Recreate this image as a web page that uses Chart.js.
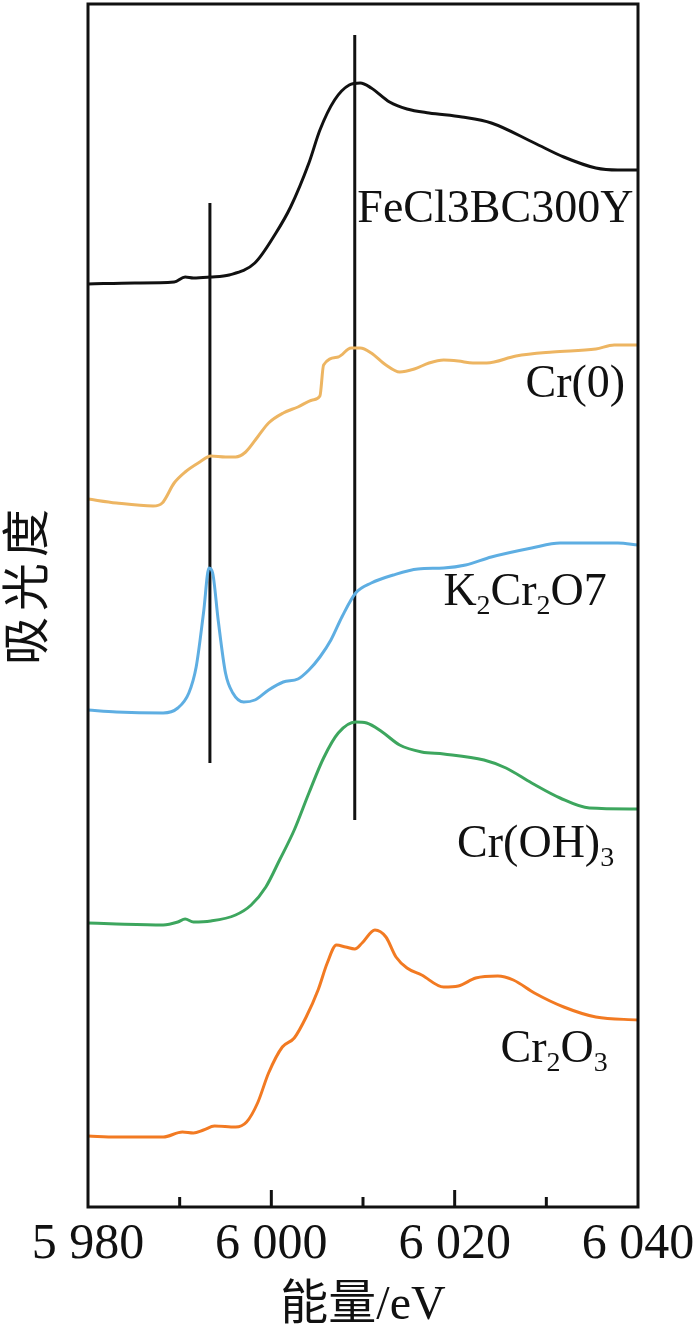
<!DOCTYPE html>
<html>
<head>
<meta charset="utf-8">
<script src="https://cdn.jsdelivr.net/npm/chart.js@4.4.1/dist/chart.umd.min.js"></script>
<style>
  html, body { margin: 0; padding: 0; background: #fff; }
  #wrap { width: 700px; height: 1333px; position: relative; }
</style>
</head>
<body>
<div id="wrap"><canvas id="chart"></canvas></div>
<script>
/* ── Data (energy in eV, absorbance in stacked arbitrary units) ─────────── */
const xTicks = [5980, 5990, 6000, 6010, 6020, 6030, 6040];

const feE = [5980.0, 5985.1, 5989.4, 5990.6, 5991.5, 5993.3, 5995.4, 5998.2, 6000.5, 6002.1, 6004.1, 6005.3, 6006.9,
  6008.5, 6009.7, 6010.9, 6012.9, 6014.8, 6017.2, 6020.8, 6024.0, 6028.7, 6031.9, 6035.4, 6037.8, 6040.0];
const feA = [9.23, 9.24, 9.25, 9.30, 9.29, 9.30, 9.32, 9.44, 9.74, 10.00, 10.44, 10.77, 11.07,
  11.22, 11.24, 11.19, 11.05, 10.98, 10.94, 10.90, 10.84, 10.64, 10.50, 10.39, 10.37, 10.37];

const cr0E = [5980.0, 5983.1, 5987.1, 5988.1, 5989.4, 5990.6, 5992.2, 5993.4, 5995.0, 5996.1, 5997.2, 5998.5, 5999.7,
  6001.3, 6002.9, 6004.5, 6005.3, 6005.7, 6007.3, 6008.7, 6009.7, 6010.9, 6012.5, 6014.0, 6015.6, 6017.2, 6018.8,
  6020.4, 6022.0, 6023.5, 6026.7, 6030.7, 6035.4, 6037.4, 6040.0];
const cr0A = [7.08, 7.04, 7.01, 7.04, 7.24, 7.35, 7.45, 7.51, 7.50, 7.50, 7.55, 7.70, 7.84,
  7.94, 8.00, 8.07, 8.11, 8.42, 8.50, 8.59, 8.59, 8.54, 8.42, 8.35, 8.38, 8.44, 8.47,
  8.46, 8.44, 8.44, 8.51, 8.55, 8.58, 8.62, 8.62];

const kE = [5980.0, 5983.1, 5988.2, 5989.8, 5991.0, 5991.8, 5992.6, 5993.2, 5993.6, 5994.2, 5995.0, 5995.8, 5997.0,
  5998.2, 5999.7, 6001.3, 6002.9, 6004.1, 6005.3, 6006.5, 6007.7, 6009.2, 6010.9, 6013.3, 6016.0, 6018.8,
  6021.2, 6024.0, 6028.4, 6031.5, 6034.7, 6037.8, 6040.0];
const kA = [4.97, 4.95, 4.94, 4.99, 5.14, 5.40, 5.94, 6.39, 6.34, 5.87, 5.34, 5.14, 5.05,
  5.07, 5.17, 5.25, 5.28, 5.37, 5.50, 5.67, 5.90, 6.14, 6.24, 6.32, 6.38, 6.39,
  6.42, 6.50, 6.59, 6.64, 6.64, 6.64, 6.62];

const ohE = [5980.0, 5983.1, 5988.2, 5989.8, 5990.6, 5991.5, 5993.4, 5996.1, 5997.8, 5999.4, 6000.9, 6002.5, 6004.1,
  6005.7, 6007.3, 6009.2, 6010.4, 6012.1, 6014.0, 6016.4, 6018.8, 6023.2, 6025.6, 6028.4, 6031.5, 6034.7, 6040.0];
const ohA = [2.84, 2.83, 2.82, 2.85, 2.88, 2.85, 2.86, 2.92, 3.02, 3.20, 3.47, 3.77, 4.14,
  4.49, 4.74, 4.85, 4.84, 4.75, 4.62, 4.55, 4.53, 4.47, 4.39, 4.24, 4.09, 3.99, 3.98];

const oxE = [5980.0, 5983.1, 5988.2, 5990.3, 5991.5, 5992.6, 5993.8, 5996.1, 5997.3, 5998.5, 5999.7, 6001.2, 6002.5,
  6003.8, 6005.1, 6006.1, 6007.1, 6008.1, 6009.1, 6009.9, 6011.3, 6012.5, 6013.6, 6014.8, 6016.4, 6018.8,
  6020.4, 6022.3, 6024.7, 6026.4, 6028.7, 6031.9, 6035.4, 6040.0];
const oxA = [0.71, 0.70, 0.70, 0.75, 0.74, 0.77, 0.81, 0.80, 0.85, 1.04, 1.34, 1.60, 1.69,
  1.90, 2.17, 2.44, 2.62, 2.60, 2.58, 2.64, 2.77, 2.70, 2.50, 2.39, 2.32, 2.20,
  2.21, 2.29, 2.31, 2.27, 2.14, 2.00, 1.90, 1.87];

// reference lines marking the pre-edge peak and the white line
const markE = [5993.3, 6009.1];
const markLow = [4.44, 3.87];
const markHigh = [10.04, 11.72];

// series labels: [text parts (sub = subscript)], right edge energy, baseline value
const seriesLabels = [
  { parts: [['FeCl3BC300Y', 0]], e: 6039.5, a: 9.85 },
  { parts: [['Cr(0)', 0]], e: 6038.6, a: 8.10 },
  { parts: [['K', 0], ['2', 1], ['Cr', 0], ['2', 1], ['O7', 0]], e: 6036.6, a: 6.02 },
  { parts: [['Cr(OH)', 0], ['3', 1]], e: 6037.4, a: 3.50 },
  { parts: [['Cr', 0], ['2', 1], ['O', 0], ['3', 1]], e: 6036.7, a: 1.45 }
];

const colors = { fe: '#111111', cr0: '#EDB562', k: '#5EAEE2', oh: '#3DA65E', ox: '#F27A22' };

const pts = (xs, ys) => xs.map((x, i) => ({ x, y: ys[i] }));

function curve(data, color) {
  return { data, borderColor: color, borderWidth: 3, pointRadius: 0, fill: false,
           cubicInterpolationMode: 'monotone' };
}

const datasets = [
  curve(pts(oxE, oxA), colors.ox),
  curve(pts(ohE, ohA), colors.oh),
  curve(pts(kE, kA), colors.k),
  curve(pts(cr0E, cr0A), colors.cr0),
  curve(pts(feE, feA), colors.fe)
];
markE.forEach((e, i) => {
  datasets.push({ data: [{ x: e, y: markLow[i] }, { x: e, y: markHigh[i] }],
    borderColor: '#111', borderWidth: 3, pointRadius: 0, fill: false });
});

/* ── Frame, inward ticks, labels ────────────────────────────────────────── */
const framePlugin = {
  id: 'frame',
  afterDatasetsDraw(chart) {
    const { ctx, chartArea: a, scales: { x, y } } = chart;
    ctx.save();
    ctx.strokeStyle = '#111';
    ctx.lineWidth = 3;
    ctx.strokeRect(a.left, a.top, a.right - a.left, a.bottom - a.top);

    // major ticks every 20 eV, minor every 10 eV, pointing into the plot
    xTicks.forEach(v => {
      if (v === 5980 || v === 6040) return;
      const px = x.getPixelForValue(v);
      const len = (v % 20 === 0) ? 17 : 10;
      ctx.beginPath();
      ctx.moveTo(px, a.bottom);
      ctx.lineTo(px, a.bottom - len);
      ctx.stroke();
    });

    // curve labels with subscripts
    ctx.fillStyle = '#111';
    ctx.textBaseline = 'alphabetic';
    ctx.textAlign = 'left';
    const big = '46px "Liberation Serif", "Times New Roman", serif';
    const small = '28px "Liberation Serif", "Times New Roman", serif';
    seriesLabels.forEach(l => {
      let w = 0;
      l.parts.forEach(([t, sub]) => { ctx.font = sub ? small : big; w += ctx.measureText(t).width; });
      let cx = x.getPixelForValue(l.e) - w;
      const by = y.getPixelForValue(l.a);
      l.parts.forEach(([t, sub]) => {
        ctx.font = sub ? small : big;
        ctx.fillText(t, cx, sub ? by + 9 : by);
        cx += ctx.measureText(t).width;
      });
    });

    // y axis title
    ctx.translate(25, 587);
    ctx.rotate(-Math.PI / 2);
    ctx.textAlign = 'center';
    ctx.textBaseline = 'middle';
    ctx.letterSpacing = '6px';
    ctx.font = '48px "Noto Sans CJK SC", sans-serif';
    ctx.fillText('吸光度', 3, 0);
    ctx.restore();
  }
};

new Chart(document.getElementById('chart'), {
  type: 'line',
  data: { datasets },
  options: {
    responsive: true,
    maintainAspectRatio: false,
    animation: false,
    layout: { padding: { left: 88, right: 62, top: 4, bottom: 0 } },
    plugins: { legend: { display: false }, tooltip: { enabled: false } },
    scales: {
      x: {
        type: 'linear',
        min: 5980, max: 6040,
        afterFit: s => { s.height = 126; s.paddingLeft = 0; s.paddingRight = 0; },
        afterBuildTicks: s => { s.ticks = xTicks.filter(v => v % 20 === 0).map(v => ({ value: v })); },
        grid: { display: false, drawTicks: false },
        border: { display: false },
        ticks: {
          padding: 8,
          color: '#111',
          font: { family: '"Liberation Serif", "Times New Roman", serif', size: 50 },
          callback: v => String(v).replace(/^(\d)(\d{3})$/, '$1 $2')
        },
        title: {
          display: true,
          text: '能量/eV',
          color: '#111',
          padding: { top: 0, bottom: 0 },
          font: { family: '"Liberation Serif", "Noto Sans CJK SC", serif', size: 48, lineHeight: 1.1 }
        }
      },
      y: {
        display: false,
        min: 0, max: 12.03
      }
    }
  },
  plugins: [framePlugin]
});
</script>
</body>
</html>
